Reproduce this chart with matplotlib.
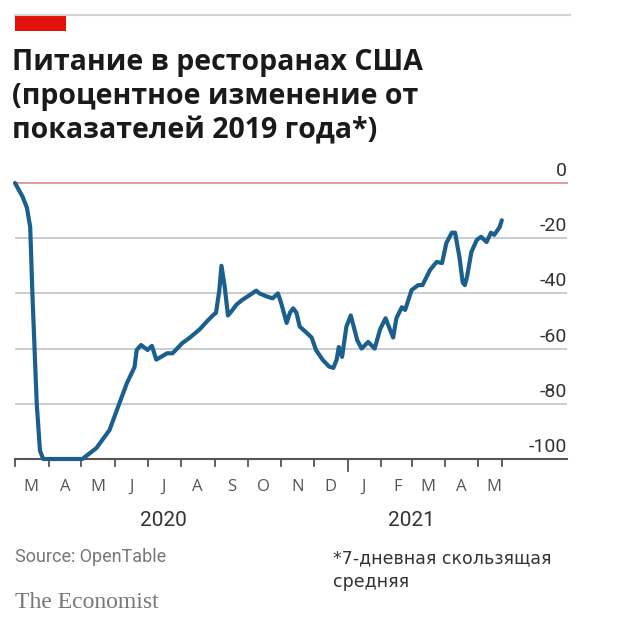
import matplotlib
matplotlib.use("Agg")
import matplotlib.pyplot as plt
import matplotlib.dates as mdates
from matplotlib.patches import Rectangle
from matplotlib.lines import Line2D
import matplotlib.transforms as mtransforms
import pandas as pd

# данные (7-дневная средняя, % к 2019 г.)
dates = ["2020-03-01", "2020-03-08", "2020-03-12", "2020-03-15", "2020-03-17",
         "2020-03-21", "2020-03-24", "2020-03-27", "2020-05-02", "2020-05-15",
         "2020-05-27", "2020-06-03", "2020-06-12", "2020-06-19", "2020-06-21",
         "2020-06-25", "2020-07-01", "2020-07-05", "2020-07-09", "2020-07-19",
         "2020-07-24", "2020-08-02", "2020-08-09", "2020-08-18", "2020-08-25",
         "2020-08-30", "2020-09-02", "2020-09-05", "2020-09-07", "2020-09-10",
         "2020-09-13", "2020-09-16", "2020-09-21", "2020-09-26", "2020-10-03",
         "2020-10-09", "2020-10-12", "2020-10-18", "2020-10-24", "2020-10-29",
         "2020-11-01", "2020-11-06", "2020-11-09", "2020-11-12", "2020-11-15",
         "2020-11-18", "2020-11-25", "2020-11-29", "2020-12-03", "2020-12-09",
         "2020-12-15", "2020-12-19", "2020-12-22", "2020-12-24", "2020-12-27",
         "2020-12-31", "2021-01-04", "2021-01-10", "2021-01-14", "2021-01-20",
         "2021-01-26", "2021-01-31", "2021-02-05", "2021-02-08", "2021-02-12",
         "2021-02-15", "2021-02-20", "2021-02-23", "2021-03-01", "2021-03-07",
         "2021-03-11", "2021-03-18", "2021-03-24", "2021-03-29", "2021-04-02",
         "2021-04-07", "2021-04-10", "2021-04-14", "2021-04-17", "2021-04-19",
         "2021-04-21", "2021-04-25", "2021-04-30", "2021-05-04", "2021-05-09",
         "2021-05-13", "2021-05-16", "2021-05-21", "2021-05-23"]
values = [0, -5, -9, -16, -40,
          -80, -97, -100, -100, -96,
          -89.5, -82, -72.5, -66.7, -60.5,
          -58.7, -60.5, -59, -64, -61.7,
          -61.7, -58, -56, -53, -50,
          -48, -47, -39, -30, -37.6,
          -48, -46.6, -44, -42.4, -40.6,
          -39, -40, -41, -41.8, -40,
          -43.6, -50.7, -47, -45.4, -47,
          -52, -54.5, -56, -60.5, -64,
          -66.5, -67, -64, -59.4, -63,
          -52, -48, -57, -60, -57.6,
          -60, -53, -49, -52, -56,
          -49, -45, -46, -38.8, -37,
          -37, -31.5, -28.6, -29, -21.7,
          -18, -18, -26.8, -36, -37,
          -34, -25, -20.6, -19.5, -21.4,
          -18, -18.8, -16, -13.5]

y_ticks = [0, -20, -40, -60, -80, -100]
y_labels = ["0", "-20", "-40", "-60", "-80", "-100"]
month_labels = ["M", "A", "M", "J", "J", "A", "S", "O", "N", "D",
                "J", "F", "M", "A", "M"]
years = ["2020", "2021"]

title_lines = ["Питание в ресторанах США",
               "(процентное изменение от",
               "показателей 2019 года*)"]

W, H = 620, 625
fig = plt.figure(figsize=(W / 100, H / 100), dpi=100)

def fx(px):
    return px / W

def fy(py):
    return 1 - py / H

ax = fig.add_axes([fx(15), fy(459), fx(567) - fx(15), fy(183) - fy(459)])

x = mdates.date2num(pd.to_datetime(dates))
blue = "#1b5f8e"
ax.plot(x, values, color=blue, lw=3.0, solid_joinstyle="round",
        solid_capstyle="round", zorder=5, clip_on=False)

x0 = mdates.date2num(pd.Timestamp("2020-03-01"))
x1 = mdates.date2num(pd.Timestamp("2021-07-22"))
ax.set_xlim(x0, x1)
ax.set_ylim(-100, 0)

for s in ax.spines.values():
    s.set_visible(False)
ax.set_xticks([])
ax.set_yticks([])

# сетка
for v in y_ticks[1:-1]:
    ax.axhline(v, color="#c9cdd1", lw=1.4, zorder=1)
ax.axhline(0, color="#e39a9a", lw=1.4, zorder=2, clip_on=False)
ax.axhline(-100, color="#555555", lw=1.5, zorder=3, clip_on=False)

narrow = ["Roboto", "DejaVu Sans"]

# подписи оси y
ytr = mtransforms.blended_transform_factory(ax.transAxes, ax.transData)
off = mtransforms.offset_copy(ytr, fig=fig, x=0, y=3, units="dots")
for v, lab in zip(y_ticks, y_labels):
    ax.text(1.0, v, lab, transform=off, ha="right", va="bottom",
            fontsize=14, family=narrow, color="#333333")

# засечки по месяцам
months = pd.date_range("2020-03-01", "2021-05-01", freq="MS")
tick_x = list(mdates.date2num(months)) + [x[-1]]
tr = mtransforms.blended_transform_factory(ax.transData, ax.transAxes)
for t, d in zip(tick_x, list(months) + [None]):
    long = d is not None and d.month == 1
    ln = 12 if long else 7
    ax.add_line(Line2D([t, t], [0, -ln / (459 - 183)], transform=tr,
                       color="#555555", lw=1.3, clip_on=False))

mids = mdates.date2num(months + pd.Timedelta(days=15))
for m, lab in zip(mids, month_labels):
    ax.text(m, -28 / (459 - 183), lab, transform=tr, ha="center",
            va="center", fontsize=12, family=["Open Sans", "DejaVu Sans"],
            color="#555555")

year_x = mdates.date2num(pd.to_datetime(["2020-07-16", "2021-03-01"]))
for yx, lab in zip(year_x, years):
    ax.text(yx, -61 / (459 - 183), lab, transform=tr, ha="center",
            va="center", fontsize=15, family=narrow, color="#333333")

# шапка
fig.add_artist(Line2D([fx(15), fx(570)], [fy(15), fy(15)],
                      color="#d9cfcc", lw=1.5))
fig.add_artist(Rectangle((fx(15), fy(31)), fx(66) - fx(15), fy(15) - fy(31),
                         color="#e3120b", lw=0))

for i, line in enumerate(title_lines):
    fig.text(fx(12), fy(70 + i * 34), line, ha="left", va="baseline",
             fontsize=20.5, fontweight="bold",
             family=["Open Sans", "DejaVu Sans"], color="#1a1a1a")

fig.text(fx(15), fy(557), "Source: OpenTable", ha="left", va="center",
         fontsize=13, family=narrow, color="#777777")
fig.text(fx(15), fy(602), "The Economist", ha="left", va="center",
         fontsize=17, family=["Liberation Serif", "DejaVu Serif"],
         color="#777777")
fig.text(fx(333), fy(558), "*7-дневная скользящая", ha="left",
         va="center", fontsize=12.5, family=["DejaVu Sans"], color="#333333")
fig.text(fx(333), fy(582), "средняя", ha="left", va="center",
         fontsize=12.5, family=["DejaVu Sans"], color="#333333")

fig.savefig("out.png", dpi=100, facecolor="white")
